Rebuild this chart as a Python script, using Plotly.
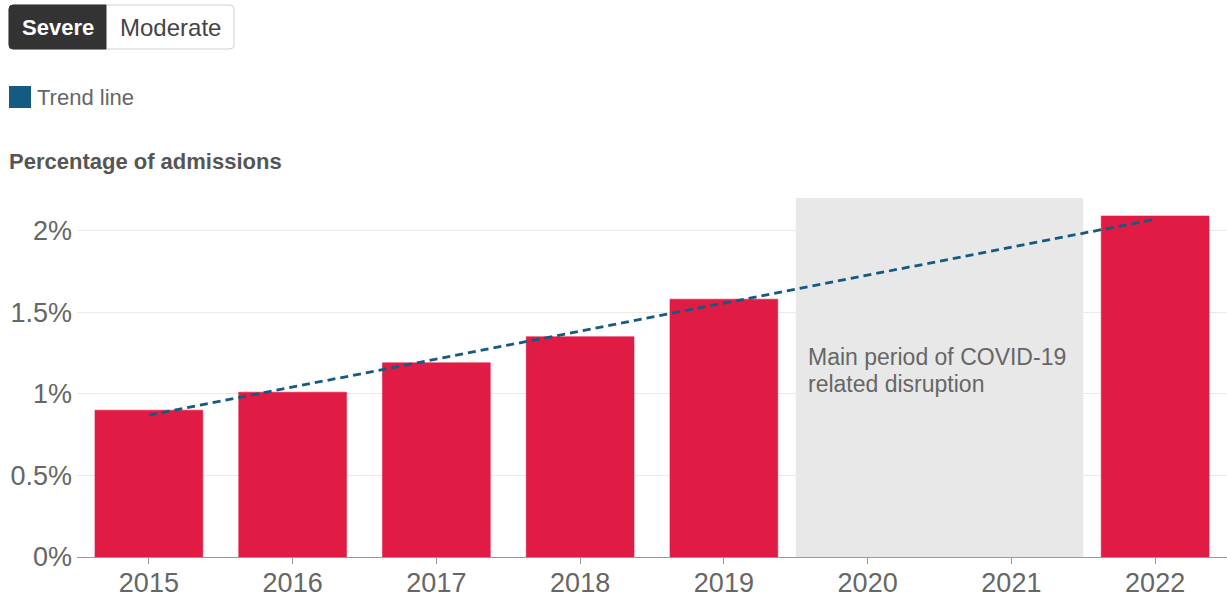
import plotly.graph_objects as go

# Data: severe cases as a percentage of admissions
years = ["2015", "2016", "2017", "2018", "2019", "2020", "2021", "2022"]
severe_pct = [0.90, 1.01, 1.19, 1.35, 1.58, None, None, 2.09]

trend_years = ["2015", "2022"]
trend_pct = [0.87, 2.07]

y_ticks = [0, 0.5, 1, 1.5, 2]
y_tick_labels = ["0%", "0.5%", "1%", "1.5%", "2%"]

covid_start, covid_end = 4.5, 6.5   # category positions bounding 2020-2021
covid_top = 2.2

W, H = 1227, 598
ML, MR, MT, MB = 77, 0, 198, 41
PW, PH = W - ML - MR, H - MT - MB


def px(x):
    return (x - ML) / PW


def py(y):
    return (H - MB - y) / PH


FONT = "Liberation Sans, Arial, sans-serif"
BAR = "#e01b44"
TREND = "#155a80"

fig = go.Figure()

fig.add_trace(go.Bar(
    x=years, y=severe_pct,
    marker=dict(color=BAR, line=dict(color="rgba(224,27,68,0.55)", width=1)),
    width=0.75, showlegend=False, hoverinfo="x+y",
))

fig.add_trace(go.Scatter(
    x=trend_years, y=trend_pct, mode="lines",
    line=dict(color=TREND, width=2.8, dash="8px,5px"),
    showlegend=False, name="Trend line",
))

shapes = [
    # COVID-19 disruption band
    dict(type="rect", xref="x", yref="y", x0=covid_start, x1=covid_end,
         y0=0, y1=covid_top, fillcolor="#e8e8e8", line=dict(width=0), layer="below"),
]


def rounded(x0, y0, x1, y1, r, left=True, right=True):
    # rounded rectangle path in paper units, built from pixel coordinates
    rx, ry = r / PW, r / PH
    X0, X1, Y0, Y1 = px(x0), px(x1), py(y0), py(y1)  # Y0 is the top
    p = []
    if left:
        p.append(f"M{X0 + rx},{Y0}")
    else:
        p.append(f"M{X0},{Y0}")
    if right:
        p.append(f"L{X1 - rx},{Y0} Q{X1},{Y0} {X1},{Y0 - ry} L{X1},{Y1 + ry} Q{X1},{Y1} {X1 - rx},{Y1}")
    else:
        p.append(f"L{X1},{Y0} L{X1},{Y1}")
    if left:
        p.append(f"L{X0 + rx},{Y1} Q{X0},{Y1} {X0},{Y1 + ry} L{X0},{Y0 - ry} Q{X0},{Y0} {X0 + rx},{Y0} Z")
    else:
        p.append(f"L{X0},{Y1} Z")
    return " ".join(p)


# Toggle buttons (Severe selected)
shapes.append(dict(type="path", xref="paper", yref="paper",
                   path=rounded(9, 5, 234, 49, 4), fillcolor="#ffffff",
                   line=dict(color="#d0d0d0", width=1)))
shapes.append(dict(type="path", xref="paper", yref="paper",
                   path=rounded(9, 5, 106, 49, 4, right=False), fillcolor="#333333",
                   line=dict(color="#333333", width=1)))
# Legend swatch
shapes.append(dict(type="rect", xref="paper", yref="paper",
                   x0=px(9), x1=px(31), y0=py(108), y1=py(86),
                   fillcolor=TREND, line=dict(width=0)))


def label(text, x, y, size, color, anchor="left"):
    return dict(text=text, x=px(x), y=py(y), xref="paper", yref="paper",
                showarrow=False, xanchor=anchor, yanchor="middle",
                font=dict(family=FONT, size=size, color=color))


annotations = [
    label("<b>Severe</b>", 57.5, 27, 22, "#ffffff", "center"),
    label("Moderate", 170, 27, 24, "#444444", "center"),
    label("Trend line", 35, 97, 22, "#666666"),
    label("<b>Percentage of admissions</b>", 7, 161, 22, "#555555"),
    label("Main period of COVID-19", 806, 357, 23, "#666666"),
    label("related disruption", 806, 384, 23, "#666666"),
]

fig.update_layout(
    width=W, height=H,
    margin=dict(l=ML, r=MR, t=MT, b=MB, autoexpand=False),
    paper_bgcolor="#ffffff", plot_bgcolor="#ffffff",
    bargap=0.25,
    shapes=shapes, annotations=annotations,
    showlegend=False,
    font=dict(family=FONT, color="#666666"),
)

fig.update_xaxes(
    type="category", categoryorder="array", categoryarray=years,
    range=[-0.5, 7.5], automargin=False,
    showline=True, linecolor="#999999", linewidth=1,
    ticks="outside", ticklen=6, tickcolor="#999999",
    ticklabelstandoff=-4,
    tickfont=dict(family=FONT, size=27, color="#666666"),
    showgrid=False, fixedrange=True,
)

fig.update_yaxes(
    range=[0, covid_top], automargin=False,
    tickvals=y_ticks, ticktext=y_tick_labels,
    tickfont=dict(family=FONT, size=27, color="#666666"),
    ticklabelstandoff=4,
    showgrid=True, gridcolor="#ebebe6", gridwidth=1,
    zeroline=False, showline=False, ticks="",
    fixedrange=True,
)

fig.write_html("out.html", config={"displayModeBar": False})
